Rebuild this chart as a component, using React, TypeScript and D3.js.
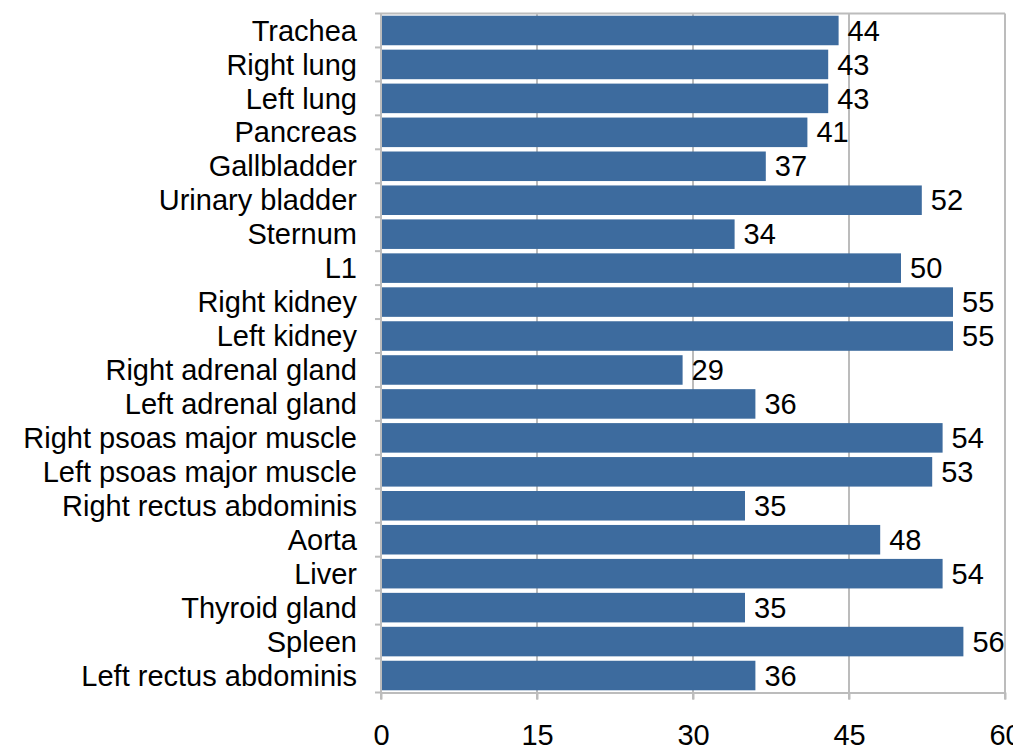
import React, { useRef, useEffect } from "react";
import * as d3 from "d3";

const categories = [
  "Trachea",
  "Right lung",
  "Left lung",
  "Pancreas",
  "Gallbladder",
  "Urinary bladder",
  "Sternum",
  "L1",
  "Right kidney",
  "Left kidney",
  "Right adrenal gland",
  "Left adrenal gland",
  "Right psoas major muscle",
  "Left psoas major muscle",
  "Right rectus abdominis",
  "Aorta",
  "Liver",
  "Thyroid gland",
  "Spleen",
  "Left rectus abdominis",
];
const values = [44, 43, 43, 41, 37, 52, 34, 50, 55, 55, 29, 36, 54, 53, 35, 48, 54, 35, 56, 36];
const xTicks = [0, 15, 30, 45, 60];

const App = () => {
  const svgRef = useRef<SVGSVGElement>(null);

  useEffect(() => {
    const svg = d3.select(svgRef.current);
    svg.selectAll("*").remove();

    const left = 381;
    const right = 1005;
    const top = 13.5;
    const bottom = 692.5;
    const font = "'Liberation Sans', Arial, sans-serif";
    const fs = "29px";
    const grid = "#bcbcbc";

    const x = d3.scaleLinear().domain([0, 60]).range([left, right]);
    const y = d3
      .scaleBand()
      .domain(categories)
      .range([top, bottom])
      .paddingInner(0.13)
      .paddingOuter(0.065);

    // gridlines + frame
    svg
      .append("g")
      .selectAll("line")
      .data(xTicks.slice(1))
      .join("line")
      .attr("x1", (d) => x(d))
      .attr("x2", (d) => x(d))
      .attr("y1", top)
      .attr("y2", bottom + 7)
      .attr("stroke", grid)
      .attr("stroke-width", 2);
    svg
      .append("line")
      .attr("x1", left)
      .attr("x2", right)
      .attr("y1", top)
      .attr("y2", top)
      .attr("stroke", grid)
      .attr("stroke-width", 2);

    // bars
    svg
      .append("g")
      .selectAll("rect")
      .data(values)
      .join("rect")
      .attr("x", x(0))
      .attr("y", (_, i) => y(categories[i])!)
      .attr("width", (d) => x(d) - x(0))
      .attr("height", y.bandwidth())
      .attr("fill", "#3d6b9e");

    // axes
    const xAxis = d3
      .axisBottom(x)
      .tickValues(xTicks)
      .tickSize(7)
      .tickSizeOuter(0);
    const gx = svg
      .append("g")
      .attr("transform", `translate(0,${bottom})`)
      .call(xAxis);
    gx.select(".domain").attr("stroke", grid).attr("stroke-width", 2);
    gx.selectAll(".tick line").attr("stroke", grid).attr("stroke-width", 2);
    gx.selectAll(".tick text")
      .attr("fill", "#000")
      .attr("y", 52)
      .attr("dy", 0)
      .style("font-family", font)
      .style("font-size", fs);

    // y axis line and band-boundary ticks
    svg
      .append("line")
      .attr("x1", left)
      .attr("x2", left)
      .attr("y1", top)
      .attr("y2", bottom + 7)
      .attr("stroke", grid)
      .attr("stroke-width", 2);
    const bounds = categories.map((c) => y(c)! - (y.step() - y.bandwidth()) / 2);
    bounds.push(bottom);
    svg
      .append("g")
      .selectAll("line")
      .data(bounds)
      .join("line")
      .attr("x1", left - 6)
      .attr("x2", left)
      .attr("y1", (d) => d)
      .attr("y2", (d) => d)
      .attr("stroke", grid)
      .attr("stroke-width", 2);

    // category labels
    svg
      .append("g")
      .selectAll("text")
      .data(categories)
      .join("text")
      .attr("x", left - 24)
      .attr("y", (d) => y(d)! + y.bandwidth() / 2)
      .attr("dy", "0.35em")
      .attr("text-anchor", "end")
      .style("font-family", font)
      .style("font-size", fs)
      .text((d) => d);

    // value labels
    svg
      .append("g")
      .selectAll("text")
      .data(values)
      .join("text")
      .attr("x", (d) => x(d) + 9)
      .attr("y", (_, i) => y(categories[i])! + y.bandwidth() / 2)
      .attr("dy", "0.35em")
      .style("font-family", font)
      .style("font-size", fs)
      .text((d) => d);
  }, []);

  return (
    <svg
      ref={svgRef}
      width={1013}
      height={750}
      style={{ position: "absolute", left: 0, top: 0, background: "#fff" }}
    ></svg>
  );
};

export default App;
